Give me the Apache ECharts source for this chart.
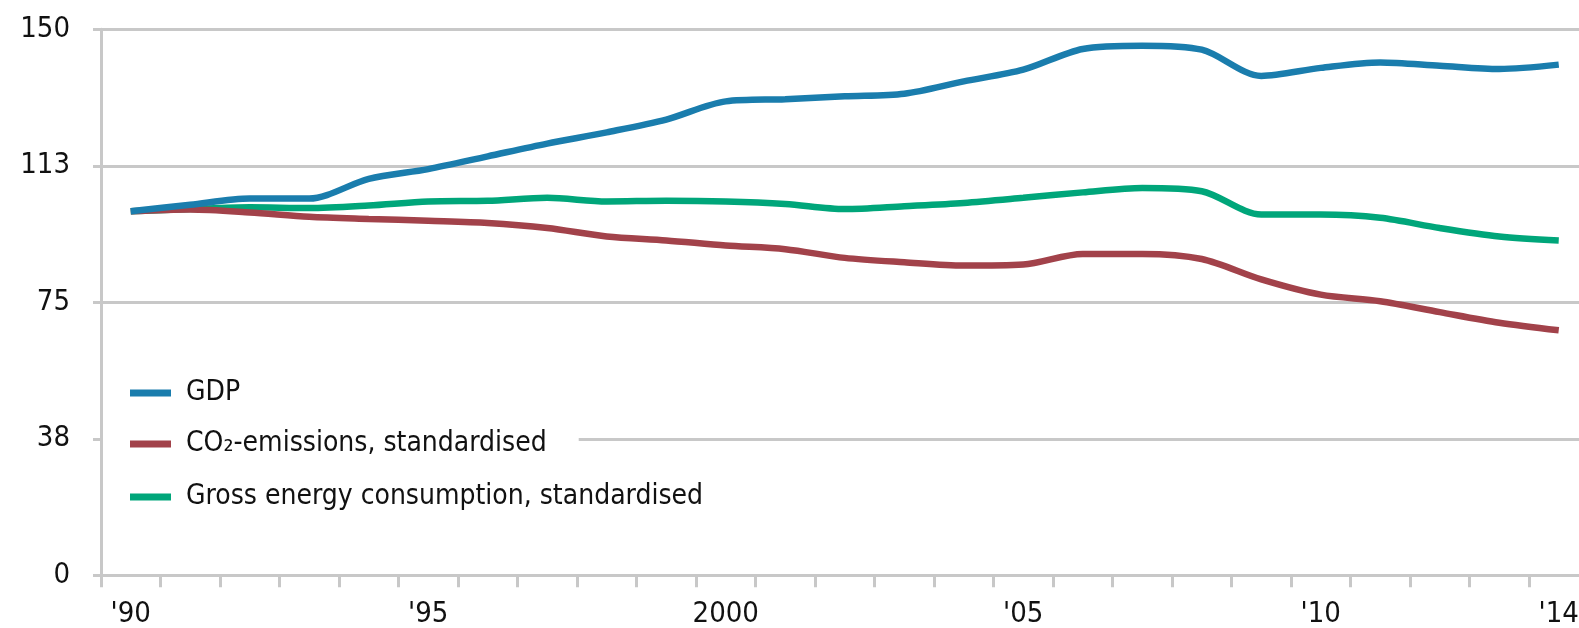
<!DOCTYPE html>
<html>
<head>
<meta charset="utf-8">
<script src="https://cdn.jsdelivr.net/npm/echarts@6/dist/echarts.min.js"></script>
<style>
html,body{margin:0;padding:0;background:#fff;}
#chart{width:1579px;height:628px;}
</style>
</head>
<body>
<div id="chart"></div>
<script>
var years = ['1990','1991','1992','1993','1994','1995','1996','1997','1998','1999','2000','2001','2002','2003','2004','2005','2006','2007','2008','2009','2010','2011','2012','2013','2014'];
var tickLabels = ["'90","","","","","'95","","","","","2000","","","","","'05","","","","","'10","","","","'14"];
var gdp = [100,101.8,103.5,103.5,108.9,111.6,115.1,118.6,121.7,125.2,130.2,130.8,131.6,132.3,135.7,138.9,144.6,145.5,144.4,137.2,139.4,140.9,140.0,139.1,140.3];
var co2 = [100,100.5,99.7,98.5,97.9,97.4,96.8,95.4,93.1,92.0,90.6,89.6,87.2,86.0,85.1,85.4,88.3,88.3,86.9,81.3,77.1,75.3,72.3,69.4,67.3];
var energy = [100,100.6,101.1,100.9,101.6,102.7,102.9,103.7,102.7,102.9,102.7,102.0,100.6,101.4,102.3,103.7,105.2,106.4,105.5,99.1,99.1,98.2,95.4,93.1,92.0];
var seriesNames = ['GDP','CO\u2082-emissions, standardised','Gross energy consumption, standardised'];
var yTicks = [0,37.5,75,112.5,150];

var FONT = "'DejaVu Sans Condensed','DejaVu Sans',sans-serif";
var colors = ['#1a7dad','#a2424a','#00a67a'];
var chart = echarts.init(document.getElementById('chart'));

function legendFor(i, top, padRight){
  return {
    data:[seriesNames[i]],
    left:103, top:top,
    orient:'vertical',
    icon:'rect', itemWidth:41, itemHeight:7, itemGap:0,
    backgroundColor:'#ffffff',
    padding:[6, padRight, 6, 27],
    selectedMode:false,
    textStyle:{fontFamily:FONT,fontSize:28,color:'#111',padding:[0,0,0,10]}
  };
}

chart.setOption({
  animation:false,
  color:colors,
  legend:[legendFor(0,373,20),legendFor(1,424,32),legendFor(2,477,20)],
  grid:{left:101,top:29.3,height:546,width:1487.5,containLabel:false,outerBoundsMode:'none'},
  xAxis:{
    type:'category',
    data:years,
    boundaryGap:true,
    axisLine:{show:true,lineStyle:{color:'#c8c8c8',width:3}},
    axisTick:{show:true,interval:0,length:12,lineStyle:{color:'#c8c8c8',width:3}},
    axisLabel:{interval:0,margin:25,fontFamily:FONT,fontSize:29,color:'#111',
      formatter:function(v,i){return tickLabels[i];}}
  },
  yAxis:{
    type:'value',min:yTicks[0],max:yTicks[yTicks.length-1],interval:yTicks[1]-yTicks[0],
    axisLine:{show:true,lineStyle:{color:'#c8c8c8',width:3}},
    axisTick:{show:true,length:8,lineStyle:{color:'#c8c8c8',width:3}},
    splitLine:{show:true,lineStyle:{color:'#c8c8c8',width:3}},
    axisLabel:{margin:31,fontFamily:FONT,fontSize:29,color:'#111',
      formatter:function(v){return Math.round(v);}}
  },
  series:[
    {name:seriesNames[0],type:'line',data:gdp,smooth:0.3,showSymbol:false,lineStyle:{width:6.5,color:colors[0]},z:3},
    {name:seriesNames[1],type:'line',data:co2,smooth:0.3,showSymbol:false,lineStyle:{width:6.5,color:colors[1]},z:2},
    {name:seriesNames[2],type:'line',data:energy,smooth:0.3,showSymbol:false,lineStyle:{width:6.5,color:colors[2]},z:1}
  ]
});
</script>
</body>
</html>
